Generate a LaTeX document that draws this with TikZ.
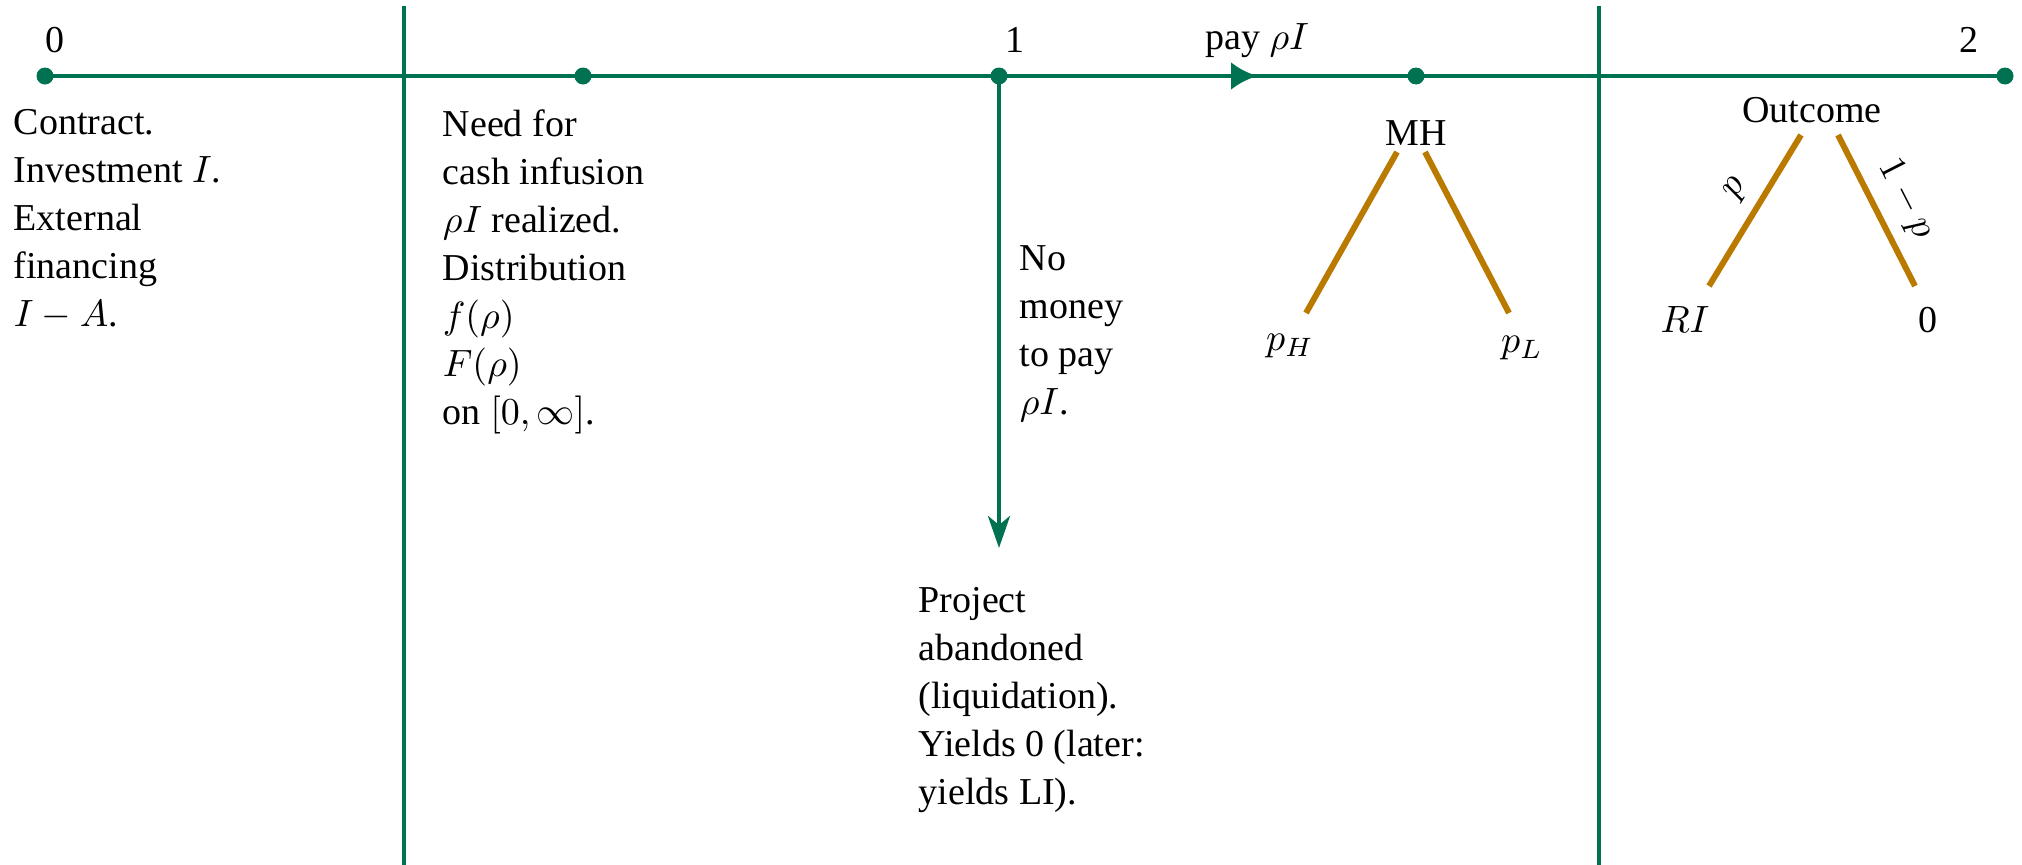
\documentclass[tikz,border=0pt]{standalone}
\usepackage{fontspec}
\setmainfont{Liberation Serif}
\usetikzlibrary{arrows.meta}
\definecolor{tgreen}{RGB}{0,114,82}
\definecolor{torange}{RGB}{186,122,0}
\begin{document}
\begin{tikzpicture}[x=1pt,y=-1pt,
  tl/.style={draw=tgreen,line width=4.5pt},
  sep/.style={draw=tgreen,line width=4pt},
  dot/.style={circle,fill=tgreen,inner sep=0pt,minimum size=17pt},
  br/.style={draw=torange,line width=6pt},
  txt/.style={anchor=north west,align=left,inner sep=0pt,scale=3.8,font=\fontsize{10}{12.63}\selectfont},
  lbl/.style={inner sep=0pt,scale=3.8,font=\fontsize{10}{12.63}\selectfont}]
\useasboundingbox (0,0) rectangle (2022,865);
% separators
\coordinate (s1t) at (404,6);
\coordinate (s1b) at (404,865);
\coordinate (s2t) at (1599,6);
\coordinate (s2b) at (1599,865);
\draw[sep] (s1t) -- (s1b);
\draw[sep] (s2t) -- (s2b);
% timeline dots
\node[dot] (d0) at (45,76) {};
\node[dot] (da) at (583,76) {};
\node[dot] (d1) at (999,76) {};
\node[dot] (dmh) at (1416,76) {};
\node[dot] (d2) at (2005,76) {};
\coordinate (atip) at (1257,76);
\coordinate (down) at (999,548);
\draw[tl] (d0.center) -- (d2.center);
\draw[tl,-{Latex[length=26pt,width=28pt]}] (d1.center) -- (atip);
\draw[tl,-{Stealth[length=32pt,width=22pt,inset=9pt]}] (d1.center) -- (down);
% top labels
\node[lbl,anchor=base] (l0) at (55,52) {0};
\node[lbl,anchor=base] (l1) at (1015,52) {1};
\node[lbl,anchor=base] (l2) at (1969,52) {2};
\node[lbl,anchor=base] (pay) at (1257,49) {pay $\rho I$};
% text blocks
\node[txt] (t0) at (13,109) {Contract.\\Investment $I$.\\External\\financing\\$I-A$.};
\node[txt] (ta) at (442,109) {Need for\\cash infusion\\$\rho I$ realized.\\Distribution\\$f(\rho)$\\$F(\rho)$\\on $[0,\infty]$.};
\node[txt] (tn) at (1019,245) {No\\money\\to pay\\$\rho I$.};
\node[txt] (tp) at (918,587) {Project\\abandoned\\(liquidation).\\Yields 0 (later:\\yields LI).};
% MH tree
\node[lbl] (mh) at (1416,133) {MH};
\node[lbl] (ph) at (1290,346) {$p_H$};
\node[lbl] (pl) at (1522,348) {$p_L$};
\coordinate (mha) at (1397,152);
\coordinate (mhb) at (1306,313);
\coordinate (mhc) at (1425,152);
\coordinate (mhd) at (1509,313);
\draw[br] (mha) -- (mhb);
\draw[br] (mhc) -- (mhd);
% Outcome tree
\node[lbl] (oc) at (1812,110) {Outcome};
\node[lbl] (ri) at (1685,320) {$RI$};
\node[lbl] (z) at (1928,320) {0};
\coordinate (oa) at (1801,135);
\coordinate (ob) at (1709,286);
\coordinate (occ) at (1838,135);
\coordinate (od) at (1915,286);
\draw[br] (ob) -- node[lbl,sloped,above=1pt,pos=0.55] (lp) {$p$} (oa);
\draw[br] (occ) -- node[lbl,sloped,above=1pt,pos=0.52] (lq) {$1-p$} (od);
\end{tikzpicture}
\end{document}
